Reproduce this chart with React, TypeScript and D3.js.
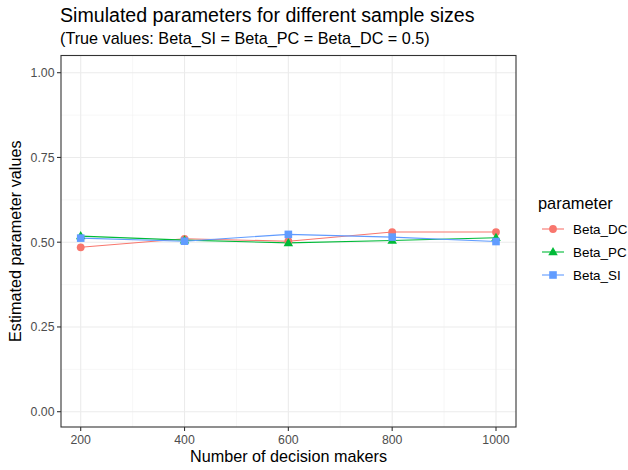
import React from "react";
import * as d3 from "d3";

const sampleSizes = [200, 400, 600, 800, 1000];
const betaDC = [0.485, 0.51, 0.503, 0.53, 0.53];
const betaPC = [0.518, 0.506, 0.498, 0.505, 0.513];
const betaSI = [0.512, 0.503, 0.523, 0.515, 0.502];
const seriesNames = ["Beta_DC", "Beta_PC", "Beta_SI"];
const seriesColors = ["#F8766D", "#00BA38", "#619CFF"];
const yTicks = [0, 0.25, 0.5, 0.75, 1];
const xTicks = [200, 400, 600, 800, 1000];

const W = 628, H = 470;
const P = { left: 61, right: 516, top: 55.5, bottom: 427 };

export default function App() {
  const x = d3.scaleLinear().domain([200, 1000]).range([80.7, 496]);
  const y = d3.scaleLinear().domain([0, 1]).range([411.7, 72.7]);
  const all = [betaDC, betaPC, betaSI];
  const line = d3.line<number>().x((_, i) => x(sampleSizes[i])).y((d) => y(d));
  const xMinor = [300, 500, 700, 900];
  const yMinor = [0.125, 0.375, 0.625, 0.875];
  const font = "Liberation Sans, Arial, sans-serif";
  const tri = (cx: number, cy: number, s: number) =>
    `M${cx},${cy - s} L${cx + s * 0.95},${cy + s * 0.65} L${cx - s * 0.95},${cy + s * 0.65} Z`;
  const shape = (k: number, cx: number, cy: number, c: string, key: string) => {
    if (k === 0) return <circle key={key} cx={cx} cy={cy} r={3.9} fill={c} />;
    if (k === 1) return <path key={key} d={tri(cx, cy, 5)} fill={c} />;
    return <rect key={key} x={cx - 3.8} y={cy - 3.8} width={7.6} height={7.6} fill={c} />;
  };
  return (
    <svg width={W} height={H} style={{ position: "absolute", left: 0, top: 0, background: "#fff" }} fontFamily={font}>
      <rect x={0} y={0} width={W} height={H} fill="#fff" />
      {xMinor.map((v) => (
        <line key={"xm" + v} x1={x(v)} x2={x(v)} y1={P.top} y2={P.bottom} stroke="#F2F2F2" strokeWidth={0.6} />
      ))}
      {yMinor.map((v) => (
        <line key={"ym" + v} x1={P.left} x2={P.right} y1={y(v)} y2={y(v)} stroke="#F2F2F2" strokeWidth={0.6} />
      ))}
      {xTicks.map((v) => (
        <line key={"xg" + v} x1={x(v)} x2={x(v)} y1={P.top} y2={P.bottom} stroke="#EBEBEB" strokeWidth={1.1} />
      ))}
      {yTicks.map((v) => (
        <line key={"yg" + v} x1={P.left} x2={P.right} y1={y(v)} y2={y(v)} stroke="#EBEBEB" strokeWidth={1.1} />
      ))}
      {all.map((s, k) => (
        <path key={"l" + k} d={line(s) || ""} fill="none" stroke={seriesColors[k]} strokeWidth={1.1} />
      ))}
      {all.map((s, k) => s.map((v, i) => shape(k, x(sampleSizes[i]), y(v), seriesColors[k], `p${k}-${i}`)))}
      <rect x={P.left} y={P.top} width={P.right - P.left} height={P.bottom - P.top} fill="none" stroke="#333" strokeWidth={1.1} />
      {yTicks.map((v) => (
        <g key={"yt" + v}>
          <line x1={P.left - 4} x2={P.left} y1={y(v)} y2={y(v)} stroke="#333" strokeWidth={1.1} />
          <text x={P.left - 6.5} y={y(v)} dy="0.35em" textAnchor="end" fontSize={12.3} fill="#4D4D4D">
            {v.toFixed(2)}
          </text>
        </g>
      ))}
      {xTicks.map((v) => (
        <g key={"xt" + v}>
          <line x1={x(v)} x2={x(v)} y1={P.bottom} y2={P.bottom + 4} stroke="#333" strokeWidth={1.1} />
          <text x={x(v)} y={P.bottom + 16.5} textAnchor="middle" fontSize={12.3} fill="#4D4D4D">
            {v}
          </text>
        </g>
      ))}
      <text x={(P.left + P.right) / 2} y={462} textAnchor="middle" fontSize={16.2} fill="#000">
        Number of decision makers
      </text>
      <text transform={`translate(21,${(P.top + P.bottom) / 2}) rotate(-90)`} textAnchor="middle" fontSize={16.2} fill="#000">
        Estimated parameter values
      </text>
      <text x={60} y={22} fontSize={19.6} fill="#000">
        Simulated parameters for different sample sizes
      </text>
      <text x={60} y={43.5} fontSize={16.2} fill="#000">
        (True values: Beta_SI = Beta_PC = Beta_DC = 0.5)
      </text>
      <text x={538} y={209} fontSize={16.4} fill="#000">
        parameter
      </text>
      {seriesNames.map((n, k) => {
        const cy = 229 + k * 23;
        return (
          <g key={"lg" + k}>
            <line x1={542} x2={564} y1={cy} y2={cy} stroke={seriesColors[k]} strokeWidth={1.1} />
            {shape(k, 553, cy, seriesColors[k], "lgp" + k)}
            <text x={573} y={cy} dy="0.35em" fontSize={13.4} fill="#000">
              {n}
            </text>
          </g>
        );
      })}
    </svg>
  );
}
